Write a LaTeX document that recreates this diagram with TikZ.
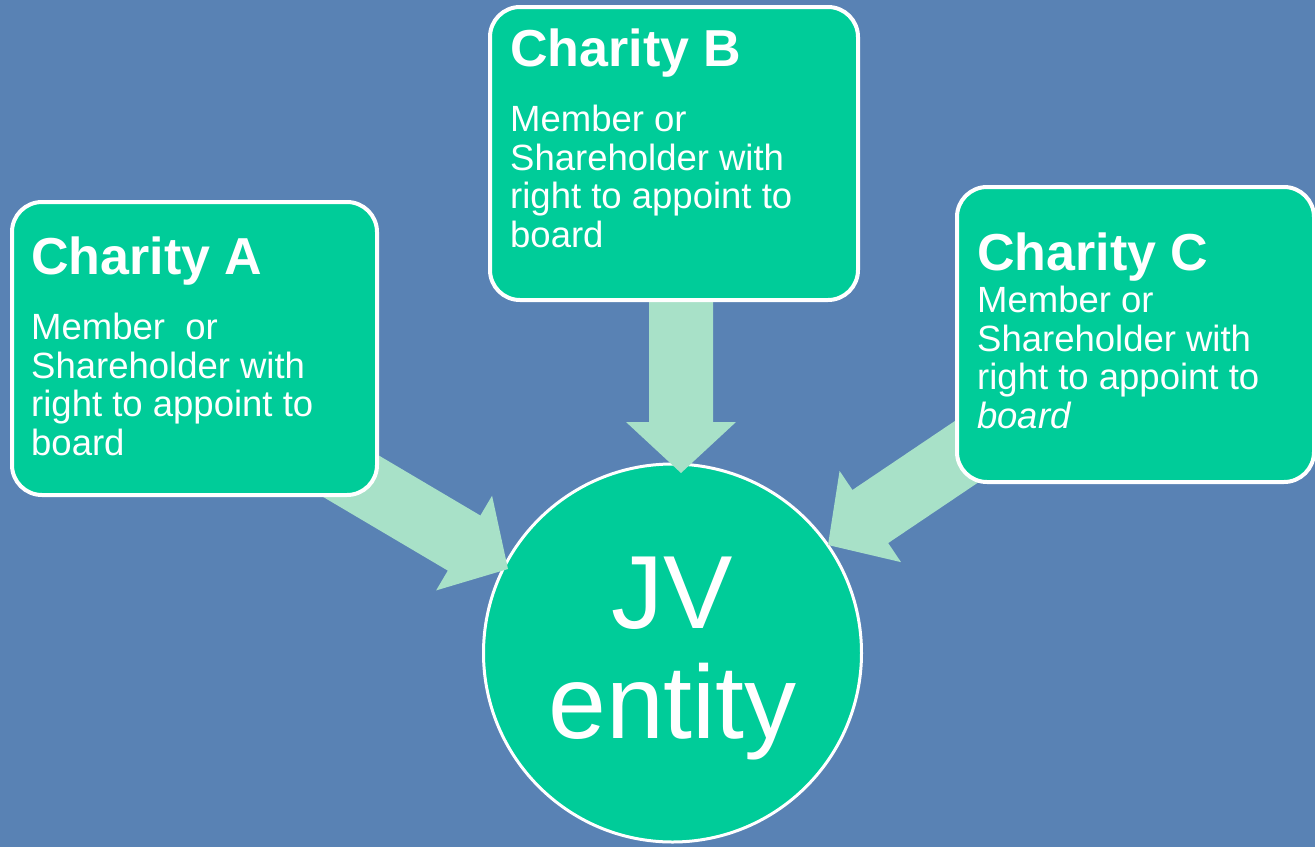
\documentclass[tikz,border=0pt]{standalone}
\usepackage{fontspec}
\setmainfont{Liberation Sans}
\usetikzlibrary{calc}
\definecolor{bgblue}{RGB}{89,130,180}
\definecolor{boxgreen}{RGB}{0,204,153}
\definecolor{mint}{RGB}{168,225,200}
\tikzset{
  box/.style={draw=white, line width=4pt, fill=boxgreen, rounded corners=30pt, inner sep=0pt},
  jvcircle/.style={circle, draw=white, line width=3pt, fill=boxgreen, inner sep=0pt, minimum size=378pt},
  boxtitle/.style={anchor=base west, inner sep=0pt, text=white, font=\fontsize{52}{56}\selectfont\bfseries},
  boxbody/.style={anchor=base west, inner sep=0pt, text=white, align=left, font=\fontsize{36.5}{38.5}\selectfont},
  jvtext/.style={inner sep=0pt, text=white, align=center, font=\fontsize{104}{110}\selectfont},
  arrowfill/.style={fill=mint},
}
\newcommand\blockarrow[2]{%
  \coordinate (ba-h) at ($(#2)!51pt!(#1)$);
  \fill[arrowfill] ($(#1)!32pt!90:(#2)$) -- ($(ba-h)!32pt!-90:(#1)$) -- ($(ba-h)!55pt!-90:(#1)$)
    -- (#2) -- ($(ba-h)!55pt!90:(#1)$) -- ($(ba-h)!32pt!90:(#1)$) -- ($(#1)!32pt!-90:(#2)$) -- cycle;
}
\begin{document}
\begin{tikzpicture}[x=1pt, y=-1pt]
  \fill[bgblue] (0,0) rectangle (1315,847);
  \useasboundingbox (0,0) rectangle (1315,847);

  % JV entity circle
  \node[jvcircle] (jv) at (672.5,653) {};

  % arrow anchor coordinates
  \coordinate (sA) at (310,452);
  \coordinate (tA) at (508,569);
  \coordinate (sB) at (681,250);
  \coordinate (tB) at (681,473);
  \coordinate (sC) at (1027,411);
  \coordinate (tC) at (828,545);
  \blockarrow{sA}{tA}
  \blockarrow{sB}{tB}
  \blockarrow{sC}{tC}

  % boxes
  \node[box, minimum width=365pt, minimum height=293pt] (boxA) at (194.5,348.5) {};
  \node[box, minimum width=368pt, minimum height=293pt] (boxB) at (674,153.5) {};
  \node[box, minimum width=357pt, minimum height=295pt] (boxC) at (1135.5,334.5) {};

  % texts (body anchored at the baseline of its last line)
  \node[boxtitle] (tiA) at (31,274) {Charity A};
  \node[boxbody] (bdA) at (31,455) {Member\ \ or\\Shareholder with\\right to appoint to\\board};
  \node[boxtitle] (tiB) at (510,66) {Charity B};
  \node[boxbody] (bdB) at (510,247) {Member or\\Shareholder with\\right to appoint to\\board};
  \node[boxtitle] (tiC) at (977,270) {Charity C};
  \node[boxbody] (bdC) at (977,428) {Member or\\Shareholder with\\right to appoint to\\\textit{board}};

  \node[jvtext] (jvlabel) at (672.5,659) {JV\\entity};
\end{tikzpicture}
\end{document}
